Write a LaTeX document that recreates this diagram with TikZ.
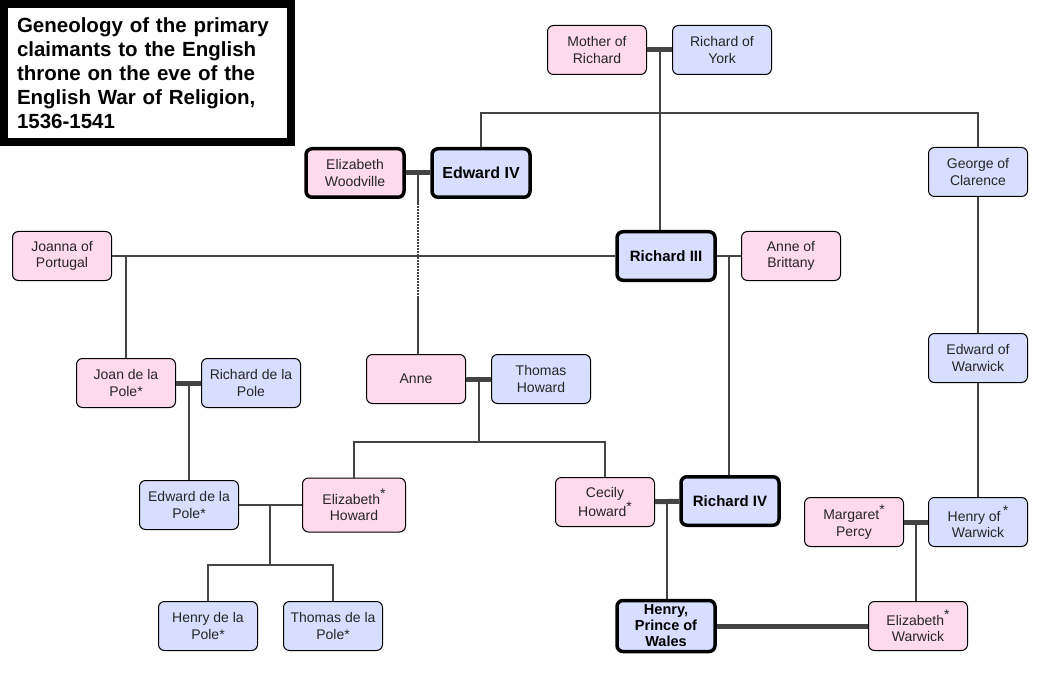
\documentclass[tikz,border=0pt]{standalone}
\usepackage{fontspec}
\setmainfont{Liberation Sans}
\definecolor{wifefill}{RGB}{255,217,236}
\definecolor{manfill}{RGB}{216,222,255}
\definecolor{linkgray}{RGB}{68,68,68}
\newcommand\claimmark{\raisebox{0.38em}{*}}

\begin{document}
\begin{tikzpicture}[x=1pt, y=-1pt,
    person/.style = {draw, rounded corners=6pt, align=center, minimum width=99pt,
                     minimum height=49pt, inner sep=2pt, line width=1pt,
                     font=\fontsize{14}{16.5}\selectfont, text=black!85},
    her/.style   = {person, fill=wifefill},
    him/.style   = {person, fill=manfill},
    heir/.style  = {him, line width=3.5pt, minimum width=98pt, minimum height=48.5pt,
                    font=\fontsize{15}{17.5}\selectfont\bfseries, text=black},
    link/.style  = {draw=linkgray, line width=2pt},
    wed/.style   = {draw=linkgray, line width=5pt},
    title/.style = {draw, line width=8pt, minimum width=287pt, minimum height=138pt,
                    inner sep=0pt, text width=261pt, align=left,
                    font=\fontsize{20.5}{24}\selectfont\bfseries},
  ]
    \useasboundingbox (0,0) rectangle (1046,676);

    \node[title] (head) at (147.5,73) {Geneology of the primary\\
                                       claimants to the English\\
                                       throne on the eve of the\\
                                       English War of Religion,\\
                                       1536-1541};

    \node[her]  (mother) at (597,50)  {Mother of\\Richard};
    \node[him]  (york)   at (722,50)  {Richard of\\York};
    \node[her, line width=3.5pt, minimum width=98pt, minimum height=48.5pt]
                (woodv)  at (355,173) {Elizabeth\\Woodville};
    \node[heir, font=\fontsize{16}{18}\selectfont\bfseries]
                (edw4)   at (481,173) {Edward IV};
    \node[him]  (clar)   at (978,172) {George of\\Clarence};
    \node[her]  (joanna) at (62,256)  {Joanna of\\Portugal};
    \node[heir] (r3)     at (666,256) {Richard III};
    \node[her]  (annb)   at (791,256) {Anne of\\Brittany};
    \node[him]  (edwar)  at (978,358) {Edward of\\Warwick};
    \node[her]  (joan)   at (126,383) {Joan de la\\Pole*};
    \node[him]  (rpole)  at (251,383) {Richard de la\\Pole};
    \node[her]  (anne)   at (416,379) {Anne};
    \node[him]  (thow)   at (541,379) {Thomas\\Howard};
    \node[him]  (epole)  at (189,505) {Edward de la\\Pole*};
    \node[her, minimum width=103pt, minimum height=54pt]
                (ehow)   at (354,505) {Elizabeth\claimmark\\Howard};
    \node[her]  (cecily) at (605,502) {Cecily\\Howard\claimmark};
    \node[heir] (r4)     at (730,501) {Richard IV};
    \node[her]  (mperc)  at (854,522) {Margaret\claimmark\\Percy};
    \node[him]  (henw)   at (978,522) {Henry of\,\claimmark\\Warwick};
    \node[him]  (hpole)  at (208,626) {Henry de la\\Pole*};
    \node[him]  (tpole)  at (333,626) {Thomas de la\\Pole*};
    \node[heir, inner ysep=0pt, minimum height=51pt,
          font=\fontsize{14.5}{16}\selectfont\bfseries]
                (hpow)   at (666,626) {Henry,\\Prince of\\Wales};
    \node[her]  (ewar)   at (918,626) {Elizabeth\claimmark\\Warwick};

    % couples
    \coordinate (c1) at (660,50);
    \coordinate (c2) at (418,173);
    \coordinate (c3) at (126,256);
    \coordinate (c4) at (729,256);
    \coordinate (c5) at (189,383);
    \coordinate (c6) at (479,379);
    \coordinate (c7) at (270,504);
    \coordinate (c8) at (667,502);
    \coordinate (c9) at (916,522);

    \draw[wed]  (mother) -- (york);
    \draw[wed]  (woodv)  -- (edw4);
    \draw[link] (joanna) -- (r3);
    \draw[link] (r3)     -- (annb);
    \draw[wed]  (joan)   -- (rpole);
    \draw[wed]  (anne)   -- (thow);
    \draw[link] (epole)  -- (ehow);
    \draw[wed]  (cecily) -- (r4);
    \draw[wed]  (mperc)  -- (henw);
    \draw[wed]  (hpow)   -- (ewar);

    % children
    \draw[link] (c1) -- ++(0,63) -| (edw4.north);
    \draw[link] (c1) -- ++(0,63) -| (clar.north);
    \draw[link] (c1) -- (c1 |- r3.north);
    \draw[link] (c2) -- ++(0,30);
    \draw[link, densely dotted] (c2) ++(0,30) -- ++(0,95);
    \draw[link] (c2) ++(0,125) -- (c2 |- anne.north);
    \draw[link] (c3) -- (joan.north);
    \draw[link] (c4) -- (c4 |- r4.north);
    \draw[link] (clar) -- (edwar);
    \draw[link] (edwar) -- (henw);
    \draw[link] (c5) -- (epole.north);
    \draw[link] (c6) -- ++(0,63) -| (ehow.north);
    \draw[link] (c6) -- ++(0,63) -| (cecily.north);
    \draw[link] (c7) -- ++(0,61) -| (hpole.north);
    \draw[link] (c7) -- ++(0,61) -| (tpole.north);
    \draw[link] (c8) -- (c8 |- hpow.north);
    \draw[link] (c9) -- (c9 |- ewar.north);
\end{tikzpicture}
\end{document}
